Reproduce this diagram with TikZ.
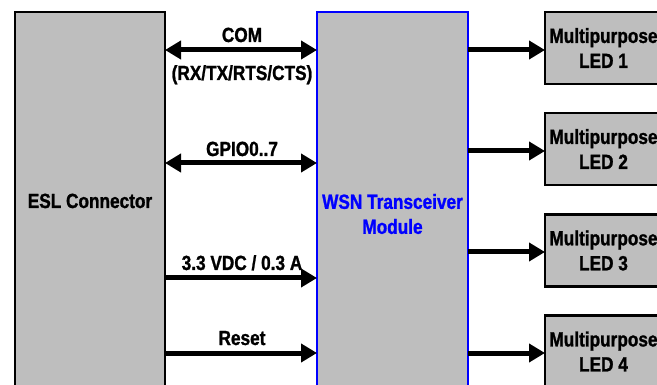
\documentclass[tikz,border=0pt]{standalone}
\usepackage{fontspec}
\setmainfont{Liberation Sans}[FakeStretch=0.84, BoldFeatures={FakeBold=1.2}]
\usetikzlibrary{arrows.meta}
\definecolor{boxgray}{RGB}{190,190,190}
\definecolor{wsnblue}{RGB}{0,0,255}
\begin{document}
\begin{tikzpicture}[x=1pt,y=-1pt,
  box/.style={draw=black, line width=2pt, fill=boxgray, inner sep=0pt, outer sep=0pt},
  lbl/.style={font={\fontsize{20.5}{25}\selectfont\bfseries}, inner sep=0pt},
  ledbox/.style={box, line width=2.5pt, minimum width=117pt, minimum height=72pt, align=center,
    font={\fontsize{20.5}{25}\selectfont\bfseries}},
  arr/.style={line width=5pt, -{Triangle[length=16pt,width=18pt]}},
  darr/.style={line width=5pt, {Triangle[length=16pt,width=18pt]}-{Triangle[length=16pt,width=18pt]}}]
\useasboundingbox (0,0) rectangle (657,385);
\clip (0,0) rectangle (657,385);
\fill[white] (0,0) rectangle (657,385);
% main boxes
\node[box, minimum width=150pt, minimum height=376pt] (esl) at (90,200) {};
\node[lbl, anchor=base] (esltext) at (90,208) {ESL Connector};
\node[box, draw=wsnblue, minimum width=151pt, minimum height=376pt] (wsn) at (392.5,200) {};
\node[lbl, text=wsnblue, align=center] (wsntext) at (392.5,214) {WSN Transceiver\\Module};
% LEDs
\node[ledbox] (led1) at (603.5,48) {Multipurpose\\LED 1};
\node[ledbox] (led2) at (603.5,149) {Multipurpose\\LED 2};
\node[ledbox] (led3) at (603.5,250.5) {Multipurpose\\LED 3};
\node[ledbox] (led4) at (603.5,351.5) {Multipurpose\\LED 4};
% ESL -> WSN connectors
\draw[darr] (esl.east |- 0,50) -- (wsn.west |- 0,50);
\draw[darr] (esl.east |- 0,163) -- (wsn.west |- 0,163);
\draw[arr] (esl.east |- 0,278) -- (wsn.west |- 0,278);
\draw[arr] (esl.east |- 0,353) -- (wsn.west |- 0,353);
% labels
\node[lbl, anchor=base] (lcom) at (242,42) {COM};
\node[lbl, anchor=base] (lrx) at (242,80) {(RX/TX/RTS/CTS)};
\node[lbl, anchor=base] (lgpio) at (242,156) {GPIO0..7};
\node[lbl, anchor=base] (lpwr) at (242,270) {3.3 VDC / 0.3 A};
\node[lbl, anchor=base] (lrst) at (242,345) {Reset};
% WSN -> LEDs
\draw[arr] (wsn.east |- 0,50) -- (led1.west |- 0,50);
\draw[arr] (wsn.east |- 0,151) -- (led2.west |- 0,151);
\draw[arr] (wsn.east |- 0,252) -- (led3.west |- 0,252);
\draw[arr] (wsn.east |- 0,353) -- (led4.west |- 0,353);
\end{tikzpicture}
\end{document}
